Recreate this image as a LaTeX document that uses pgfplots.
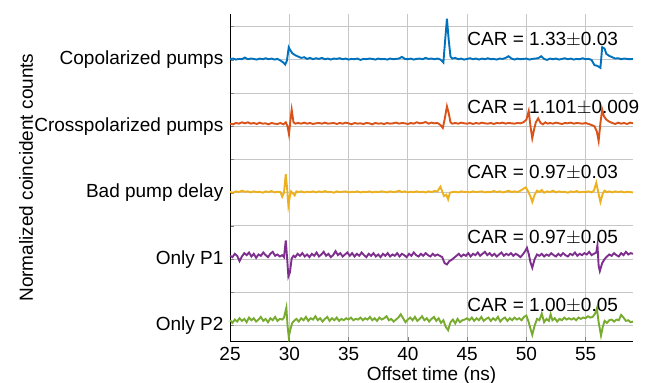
\documentclass[border=0pt]{standalone}
\usepackage{fontspec}
\setmainfont{Liberation Sans}
\usepackage{pgfplots}
\pgfplotsset{compat=1.18}
\definecolor{mB}{rgb}{0,0.447,0.741}
\definecolor{mO}{rgb}{0.85,0.325,0.098}
\definecolor{mY}{rgb}{0.929,0.694,0.125}
\definecolor{mP}{rgb}{0.494,0.184,0.556}
\definecolor{mG}{rgb}{0.466,0.674,0.188}
\begin{document}
\begin{tikzpicture}[font=\fontsize{10}{12}\selectfont]
\begin{axis}[
  scale only axis, width=212.1pt, height=172.1pt,
  xmin=25, xmax=59, ymin=-0.233, ymax=4.69,
  clip=false,
  axis x line*=bottom, axis y line*=left,
  xtick={25,30,...,55},
  ytick={0,0.5,...,4.5},
  yticklabels={Only P2,,Only P1,,Bad pump delay,,Crosspolarized pumps,,Copolarized pumps,},
  tick align=inside, major tick length=2pt,
  xmajorgrids, ymajorgrids,
  grid style={gray!45, line width=0.5pt},
  /pgf/number format/assume math mode=true,
  tick label style={font=\fontsize{10}{12}\selectfont},
  xlabel={Offset time (ns)}, ylabel={Normalized coincident counts},
  xlabel style={at={(axis description cs:0.5,-0.107)}, anchor=center},
  ylabel style={at={(axis description cs:-0.506,0.5)}, anchor=center, rotate=0},
  every axis plot/.append style={line width=1pt, mark=none},
]
\coordinate (sw) at (rel axis cs:0,0);
\coordinate (ne) at (rel axis cs:1,1);
% Copolarized
\addplot[mB] coordinates {
(25.00,4.010) (25.25,4.020) (25.50,4.005) (25.75,4.015) (26.00,4.010) (26.25,4.035) (26.50,4.010) (26.75,4.020)
(27.00,4.015) (27.25,4.005) (27.50,4.020) (27.75,4.010) (28.00,4.025) (28.25,4.010) (28.50,4.020) (28.75,4.005)
(29.00,4.015) (29.25,3.990) (29.50,3.960) (29.65,3.930) (29.80,3.990) (29.95,4.190) (30.10,4.140) (30.25,4.100)
(30.50,4.070) (30.75,4.050) (31.00,4.030) (31.25,4.040) (31.50,4.015) (31.75,4.030) (32.00,4.010) (32.25,4.025)
(32.50,4.015) (32.75,4.030) (33.00,4.010) (33.25,4.020) (33.50,4.005) (33.75,4.020) (34.00,4.015) (34.25,4.025)
(34.50,4.010) (34.75,4.020) (35.00,4.005) (35.25,4.015) (35.50,4.010) (35.75,4.020) (36.00,4.000) (36.25,4.015)
(36.50,4.010) (36.75,4.020) (37.00,4.015) (37.25,4.005) (37.50,4.020) (37.75,4.010) (38.00,4.015) (38.25,4.005)
(38.50,4.020) (38.75,4.010) (39.00,4.015) (39.25,4.020) (39.50,4.045) (39.75,4.015) (40.00,4.010) (40.25,4.020)
(40.50,4.005) (40.75,4.015) (41.00,4.020) (41.25,4.010) (41.50,4.030) (41.75,4.015) (42.00,4.020) (42.25,4.010)
(42.50,4.020) (42.75,4.005) (43.00,3.960) (43.15,4.300) (43.30,4.620) (43.45,4.300) (43.60,4.050) (43.75,4.020)
(44.00,4.030) (44.25,4.010) (44.50,4.020) (44.75,4.005) (45.00,4.015) (45.25,4.025) (45.50,4.010) (45.75,4.020)
(46.00,4.005) (46.25,4.020) (46.50,4.010) (46.75,4.025) (47.00,4.010) (47.25,4.015) (47.50,4.005) (47.75,4.020)
(48.00,4.015) (48.25,4.030) (48.50,4.055) (48.75,4.020) (49.00,4.005) (49.25,4.020) (49.50,4.010) (49.75,4.015)
(50.00,4.020) (50.25,4.005) (50.50,4.015) (50.75,4.020) (51.00,4.025) (51.25,4.055) (51.50,4.015) (51.75,4.000)
(52.00,4.020) (52.25,4.010) (52.50,4.020) (52.75,4.005) (53.00,4.015) (53.25,4.025) (53.50,4.010) (53.75,4.020)
(54.00,4.005) (54.25,4.015) (54.50,4.010) (54.75,4.025) (55.00,4.010) (55.25,4.015) (55.50,4.000) (55.75,3.920)
(56.00,3.910) (56.25,3.880) (56.40,4.190) (56.60,4.170) (56.75,4.090) (57.00,4.060) (57.25,4.040) (57.50,4.020)
(57.75,4.025) (58.00,4.010) (58.25,4.020) (58.50,4.015) (58.75,4.010) (59.00,4.015)
};
% Crosspolarized
\addplot[mO] coordinates {
(25.00,3.040) (25.25,3.030) (25.50,3.050) (25.75,3.040) (26.00,3.060) (26.25,3.045) (26.50,3.060) (26.75,3.040)
(27.00,3.050) (27.25,3.035) (27.50,3.055) (27.75,3.040) (28.00,3.045) (28.25,3.030) (28.50,3.050) (28.75,3.040)
(29.00,3.035) (29.25,3.050) (29.50,3.030) (29.70,3.060) (29.85,3.000) (29.97,2.880) (30.10,3.100) (30.20,3.250)
(30.35,3.060) (30.50,3.040) (30.75,3.050) (31.00,3.040) (31.25,3.055) (31.50,3.040) (31.75,3.050) (32.00,3.035)
(32.25,3.045) (32.50,3.050) (32.75,3.040) (33.00,3.055) (33.25,3.040) (33.50,3.045) (33.75,3.050) (34.00,3.035)
(34.25,3.050) (34.50,3.040) (34.75,3.055) (35.00,3.045) (35.25,3.030) (35.50,3.050) (35.75,3.040) (36.00,3.045)
(36.25,3.035) (36.50,3.050) (36.75,3.045) (37.00,3.030) (37.25,3.050) (37.50,3.040) (37.75,3.045) (38.00,3.035)
(38.25,3.050) (38.50,3.040) (38.75,3.045) (39.00,3.055) (39.25,3.040) (39.50,3.050) (39.75,3.045) (40.00,3.035)
(40.25,3.050) (40.50,3.040) (40.75,3.060) (41.00,3.045) (41.25,3.050) (41.50,3.065) (41.75,3.040) (42.00,3.055)
(42.25,3.045) (42.50,3.050) (42.75,3.020) (42.95,2.975) (43.10,3.100) (43.30,3.300) (43.45,3.200) (43.60,3.060)
(43.75,3.040) (44.00,3.050) (44.25,3.040) (44.50,3.055) (44.75,3.045) (45.00,3.040) (45.25,3.050) (45.50,3.035)
(45.75,3.050) (46.00,3.040) (46.25,3.055) (46.50,3.045) (46.75,3.040) (47.00,3.050) (47.25,3.035) (47.50,3.050)
(47.75,3.045) (48.00,3.055) (48.25,3.040) (48.50,3.050) (48.75,3.045) (49.00,3.040) (49.25,3.050) (49.50,3.045)
(49.75,3.060) (50.00,3.100) (50.20,3.230) (50.35,3.000) (50.50,2.820) (50.65,2.950) (50.80,3.060) (51.00,3.120)
(51.20,3.050) (51.40,3.030) (51.60,3.060) (51.80,3.040) (52.00,3.050) (52.25,3.040) (52.50,3.055) (52.75,3.045)
(53.00,3.035) (53.25,3.050) (53.50,3.045) (53.75,3.055) (54.00,3.040) (54.25,3.050) (54.50,3.045) (54.75,3.040)
(55.00,3.050) (55.25,3.035) (55.50,3.020) (55.75,3.000) (55.95,2.920) (56.10,2.780) (56.25,3.050) (56.40,3.250)
(56.55,3.150) (56.75,3.100) (57.00,3.070) (57.25,3.050) (57.50,3.035) (57.75,3.055) (58.00,3.040) (58.25,3.050)
(58.50,3.035) (58.75,3.055) (59.00,3.045)
};
% Bad pump delay
\addplot[mY] coordinates {
(25.00,2.010) (25.25,2.000) (25.50,2.020) (25.75,2.010) (26.00,2.030) (26.25,2.015) (26.50,2.020) (26.75,2.005)
(27.00,2.020) (27.25,2.010) (27.50,2.015) (27.75,2.000) (28.00,2.020) (28.25,2.010) (28.50,2.025) (28.75,2.005)
(29.00,2.015) (29.25,2.010) (29.40,1.940) (29.55,2.000) (29.70,2.280) (29.82,2.050) (29.92,1.810) (30.05,1.950)
(30.15,2.020) (30.30,1.990) (30.45,1.960) (30.60,2.020) (30.75,2.010) (31.00,2.020) (31.25,2.005) (31.50,2.015)
(31.75,2.010) (32.00,2.020) (32.25,2.005) (32.50,2.020) (32.75,2.010) (33.00,2.025) (33.25,2.010) (33.50,2.015)
(33.75,2.000) (34.00,2.020) (34.25,2.010) (34.50,2.015) (34.75,2.020) (35.00,2.005) (35.25,2.015) (35.50,2.010)
(35.75,2.020) (36.00,2.005) (36.25,2.015) (36.50,2.010) (36.75,2.020) (37.00,2.005) (37.25,2.015) (37.50,2.010)
(37.75,2.020) (38.00,2.015) (38.25,2.005) (38.50,2.020) (38.75,2.010) (39.00,2.015) (39.25,2.030) (39.50,2.010)
(39.75,2.020) (40.00,2.005) (40.25,2.015) (40.50,2.010) (40.75,2.020) (41.00,2.010) (41.25,2.015) (41.50,2.005)
(41.75,2.020) (42.00,2.010) (42.25,2.025) (42.50,2.020) (42.75,2.090) (42.90,2.020) (43.05,1.950) (43.25,1.970)
(43.40,1.900) (43.55,2.000) (43.75,2.010) (44.00,2.015) (44.25,2.005) (44.50,2.020) (44.75,2.010) (45.00,2.015)
(45.25,2.005) (45.50,2.020) (45.75,2.010) (46.00,2.015) (46.25,2.020) (46.50,2.005) (46.75,2.015) (47.00,2.010)
(47.25,2.025) (47.50,2.010) (47.75,2.020) (48.00,2.005) (48.25,2.015) (48.50,2.030) (48.75,2.010) (49.00,2.020)
(49.25,2.010) (49.50,2.030) (49.75,2.060) (49.95,2.080) (50.15,2.020) (50.35,1.940) (50.50,1.860) (50.70,1.970)
(50.90,2.030) (51.10,2.010) (51.30,2.040) (51.50,2.000) (51.75,2.020) (52.00,2.010) (52.25,2.030) (52.50,2.005)
(52.75,2.020) (53.00,2.010) (53.25,2.015) (53.50,2.000) (53.75,2.020) (54.00,2.010) (54.25,2.025) (54.50,2.005)
(54.75,2.015) (55.00,2.010) (55.25,2.020) (55.50,2.005) (55.70,2.030) (55.90,2.150) (56.10,1.980) (56.25,1.860)
(56.45,1.990) (56.60,2.030) (56.80,2.010) (57.00,2.020) (57.25,2.005) (57.50,2.020) (57.75,2.010) (58.00,2.020)
(58.25,2.005) (58.50,2.015) (58.75,2.010) (59.00,2.005)
};
% Only P1
\addplot[mP] coordinates {
(25.00,1.05) (25.20,1.03) (25.40,1.08) (25.60,1.05) (25.80,0.97) (26.00,1.04) (26.20,1.09) (26.40,1.06)
(26.60,1.10) (26.80,1.04) (27.00,1.08) (27.20,1.02) (27.40,1.07) (27.60,1.05) (27.80,1.10) (28.00,1.06)
(28.20,1.03) (28.40,1.08) (28.60,1.11) (28.80,1.05) (29.00,1.07) (29.20,1.04) (29.40,1.06) (29.55,1.03)
(29.70,1.28) (29.82,1.00) (29.92,0.74) (30.05,0.80) (30.20,1.01) (30.35,1.05) (30.50,1.03) (30.70,1.08)
(30.90,1.05) (31.10,1.09) (31.30,1.04) (31.50,1.07) (31.70,1.03) (31.90,1.08) (32.10,1.05) (32.30,1.10)
(32.50,1.04) (32.70,1.07) (32.90,1.11) (33.10,1.05) (33.30,1.08) (33.50,1.03) (33.70,1.06) (33.90,1.12)
(34.10,1.06) (34.30,1.09) (34.50,1.04) (34.70,1.07) (34.90,1.10) (35.10,1.05) (35.30,1.09) (35.50,1.04)
(35.70,1.08) (35.90,1.05) (36.10,1.10) (36.30,1.06) (36.50,1.03) (36.70,1.08) (36.90,1.05) (37.10,1.09)
(37.30,1.04) (37.50,1.07) (37.70,1.03) (37.90,1.08) (38.10,1.05) (38.30,1.09) (38.50,1.04) (38.70,1.07)
(38.90,1.05) (39.10,1.09) (39.30,1.04) (39.50,1.08) (39.70,1.06) (39.90,1.03) (40.10,1.08) (40.30,1.05)
(40.50,1.10) (40.70,1.06) (40.90,1.04) (41.10,1.08) (41.30,1.05) (41.50,1.09) (41.70,1.06) (41.90,1.04)
(42.10,1.08) (42.30,1.05) (42.50,1.07) (42.70,1.05) (42.90,1.03) (43.10,0.94) (43.30,0.92) (43.50,0.97)
(43.70,0.99) (43.90,1.02) (44.10,1.05) (44.30,1.08) (44.50,1.04) (44.70,1.07) (44.90,1.05) (45.10,1.09)
(45.30,1.04) (45.50,1.08) (45.70,1.06) (45.90,1.10) (46.10,1.05) (46.30,1.08) (46.50,1.11) (46.70,1.06)
(46.90,1.09) (47.10,1.05) (47.30,1.08) (47.50,1.04) (47.70,1.07) (47.90,1.10) (48.10,1.05) (48.30,1.08)
(48.50,1.06) (48.70,1.09) (48.90,1.05) (49.10,1.08) (49.30,1.06) (49.50,1.03) (49.70,1.07) (49.90,1.12)
(50.05,1.17) (50.20,1.08) (50.35,0.95) (50.50,0.87) (50.70,1.00) (50.90,1.07) (51.10,1.05) (51.30,1.08)
(51.50,1.04) (51.70,1.07) (51.90,1.05) (52.10,1.09) (52.30,1.06) (52.50,1.04) (52.70,1.08) (52.90,1.05)
(53.10,1.09) (53.30,1.06) (53.50,1.04) (53.70,1.08) (53.90,1.06) (54.10,1.10) (54.30,1.05) (54.50,1.08)
(54.70,1.06) (54.90,1.09) (55.10,1.07) (55.30,1.11) (55.50,1.06) (55.70,1.08) (55.90,1.10) (56.00,1.21)
(56.10,0.90) (56.20,0.82) (56.40,0.94) (56.60,1.00) (56.80,1.04) (57.00,1.07) (57.20,1.05) (57.40,1.09)
(57.60,1.06) (57.80,1.04) (58.00,1.09) (58.20,1.06) (58.40,1.11) (58.60,1.07) (58.80,1.09) (59.00,1.08)
};
% Only P2
\addplot[mG] coordinates {
(25.00,0.08) (25.20,0.04) (25.40,0.09) (25.60,0.06) (25.80,0.11) (26.00,0.07) (26.20,0.10) (26.40,0.05)
(26.60,0.12) (26.80,0.08) (27.00,0.11) (27.20,0.06) (27.40,0.09) (27.60,0.13) (27.80,0.07) (28.00,0.10)
(28.20,0.05) (28.40,0.11) (28.60,0.08) (28.80,0.13) (29.00,0.07) (29.20,0.10) (29.40,0.09) (29.55,0.12)
(29.75,0.27) (29.85,0.00) (29.95,-0.17) (30.10,-0.05) (30.25,0.04) (30.40,0.07) (30.60,0.10) (30.80,0.06)
(31.00,0.11) (31.20,0.08) (31.40,0.13) (31.60,0.07) (31.80,0.11) (32.00,0.09) (32.20,0.14) (32.40,0.08)
(32.60,0.11) (32.80,0.06) (33.00,0.10) (33.20,0.13) (33.40,0.07) (33.60,0.11) (33.80,0.08) (34.00,0.12)
(34.20,0.07) (34.40,0.10) (34.60,0.08) (34.80,0.11) (35.00,0.09) (35.20,0.12) (35.40,0.08) (35.60,0.10)
(35.80,0.09) (36.00,0.12) (36.20,0.08) (36.40,0.11) (36.60,0.09) (36.80,0.13) (37.00,0.08) (37.20,0.11)
(37.40,0.07) (37.60,0.12) (37.80,0.09) (38.00,0.11) (38.20,0.14) (38.40,0.08) (38.60,0.10) (38.80,0.06)
(39.00,0.09) (39.20,0.12) (39.40,0.17) (39.60,0.11) (39.80,0.05) (40.00,0.09) (40.20,0.12) (40.40,0.08)
(40.60,0.13) (40.80,0.07) (41.00,0.10) (41.20,0.14) (41.40,0.08) (41.60,0.11) (41.80,0.06) (42.00,0.10)
(42.20,0.13) (42.40,0.07) (42.60,0.11) (42.80,0.04) (43.00,0.08) (43.20,-0.02) (43.40,-0.07) (43.60,0.05)
(43.80,0.09) (44.00,0.03) (44.20,0.10) (44.40,0.05) (44.60,0.08) (44.80,0.09) (45.00,0.11) (45.20,0.08)
(45.40,0.12) (45.60,0.07) (45.80,0.11) (46.00,0.08) (46.20,0.13) (46.40,0.07) (46.60,0.10) (46.80,0.12)
(47.00,0.07) (47.20,0.11) (47.40,0.08) (47.60,0.13) (47.80,0.06) (48.00,0.10) (48.20,0.12) (48.40,0.07)
(48.60,0.11) (48.80,0.08) (49.00,0.12) (49.20,0.09) (49.40,0.11) (49.60,0.08) (49.80,0.13) (50.00,0.15)
(50.20,0.05) (50.35,-0.05) (50.50,-0.14) (50.70,0.00) (50.90,0.10) (51.10,0.08) (51.30,0.18) (51.50,0.05)
(51.70,0.10) (51.90,0.07) (52.05,0.17) (52.20,0.08) (52.40,0.11) (52.60,0.06) (52.80,0.10) (53.00,0.08)
(53.20,0.12) (53.40,0.09) (53.60,0.11) (53.80,0.09) (54.00,0.11) (54.20,0.08) (54.40,0.12) (54.60,0.10)
(54.80,0.12) (55.00,0.11) (55.20,0.14) (55.40,0.12) (55.60,0.13) (55.80,0.18) (55.95,0.26) (56.10,0.05)
(56.30,-0.15) (56.45,-0.02) (56.60,0.07) (56.80,0.04) (57.00,0.08) (57.20,0.09) (57.40,0.06) (57.60,0.09)
(57.80,0.08) (58.00,0.16) (58.20,0.12) (58.40,0.07) (58.60,0.08) (58.80,0.05) (59.00,0.06)
};
\node[anchor=base west, inner sep=0pt] at (axis cs:45,4.21) {CAR = 1.33$\pm$0.03};
\node[anchor=base west, inner sep=0pt] at (axis cs:45,3.20) {CAR = 1.101$\pm$0.009};
\node[anchor=base west, inner sep=0pt] at (axis cs:45,2.22) {CAR = 0.97$\pm$0.03};
\node[anchor=base west, inner sep=0pt] at (axis cs:45,1.24) {CAR = 0.97$\pm$0.05};
\node[anchor=base west, inner sep=0pt] at (axis cs:45,0.217) {CAR = 1.00$\pm$0.05};
\end{axis}
\pgfresetboundingbox
\path ([shift={(-121.1pt,-21.6pt)}]sw) rectangle ([shift={(10.0pt,7.4pt)}]ne);
\end{tikzpicture}
\end{document}
